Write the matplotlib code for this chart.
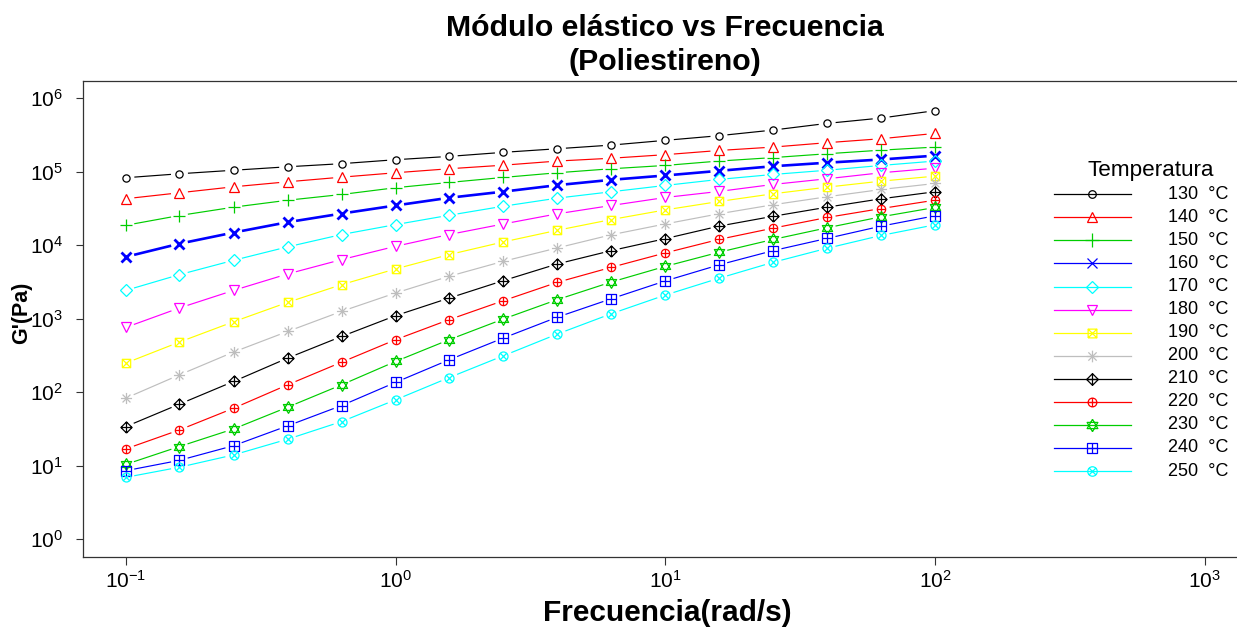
import numpy as np
import matplotlib
matplotlib.use("Agg")
import matplotlib.pyplot as plt
from matplotlib.path import Path
from matplotlib.lines import Line2D
from matplotlib.collections import LineCollection
from matplotlib.ticker import FixedLocator, NullLocator, LogFormatterSciNotation

plt.rcParams['font.family'] = ['Liberation Sans', 'DejaVu Sans']
plt.rcParams['mathtext.fontset'] = 'custom'
plt.rcParams['mathtext.rm'] = 'Liberation Sans'
plt.rcParams['mathtext.it'] = 'Liberation Sans'
plt.rcParams['mathtext.bf'] = 'Liberation Sans:bold'

# ---------------- data ----------------
frecuencia = [0.1, 0.158, 0.251, 0.398, 0.631, 1.0, 1.58, 2.51, 3.98, 6.31,
              10.0, 15.8, 25.1, 39.8, 63.1, 100.0]
temperaturas = [130, 140, 150, 160, 170, 180, 190, 200, 210, 220, 230, 240, 250]
x_ticks = [0.1, 1, 10, 100, 1000]
y_ticks = [1, 10, 100, 1e3, 1e4, 1e5, 1e6]

g_130 = [8.3e4, 9.4e4, 1.05e5, 1.17e5, 1.29e5, 1.46e5, 1.62e5, 1.84e5, 2.06e5, 2.31e5, 2.68e5, 3.10e5, 3.70e5, 4.56e5, 5.39e5, 6.80e5]
g_140 = [4.30e4, 5.18e4, 6.25e4, 7.31e4, 8.45e4, 9.70e4, 1.10e5, 1.23e5, 1.40e5, 1.53e5, 1.71e5, 1.95e5, 2.17e5, 2.49e5, 2.82e5, 3.33e5]
g_150 = [1.87e4, 2.54e4, 3.30e4, 4.10e4, 4.91e4, 6.07e4, 7.16e4, 8.38e4, 9.70e4, 1.10e5, 1.22e5, 1.40e5, 1.56e5, 1.76e5, 1.97e5, 2.17e5]
g_160 = [6.95e3, 1.05e4, 1.49e4, 2.06e4, 2.70e4, 3.48e4, 4.43e4, 5.37e4, 6.58e4, 7.78e4, 8.91e4, 1.03e5, 1.19e5, 1.33e5, 1.47e5, 1.66e5]
g_170 = [2.43e3, 3.98e3, 6.24e3, 9.51e3, 1.40e4, 1.91e4, 2.56e4, 3.40e4, 4.38e4, 5.35e4, 6.52e4, 7.87e4, 9.20e4, 1.05e5, 1.22e5, 1.40e5]
g_180 = [762, 1.40e3, 2.43e3, 4.07e3, 6.38e3, 9.68e3, 1.40e4, 1.95e4, 2.68e4, 3.48e4, 4.47e4, 5.40e4, 6.73e4, 8.04e4, 9.70e4, 1.12e5]
g_190 = [249, 481, 910, 1.67e3, 2.91e3, 4.76e3, 7.46e3, 1.11e4, 1.60e4, 2.24e4, 3.03e4, 3.94e4, 5.02e4, 6.18e4, 7.46e4, 8.73e4]
g_200 = [83, 172, 352, 671, 1.26e3, 2.24e3, 3.78e3, 6.05e3, 9.20e3, 1.39e4, 1.95e4, 2.68e4, 3.56e4, 4.57e4, 5.74e4, 6.93e4]
g_210 = [34, 68.7, 140, 291, 574, 1.10e3, 1.91e3, 3.30e3, 5.57e3, 8.45e3, 1.23e4, 1.82e4, 2.48e4, 3.30e4, 4.29e4, 5.35e4]
g_220 = [16.9, 30.6, 60.5, 126, 256, 518, 971, 1.76e3, 3.13e3, 5.01e3, 7.87e3, 1.20e4, 1.71e4, 2.39e4, 3.16e4, 4.11e4]
g_230 = [10.4, 18.2, 31.6, 62.5, 126, 262, 518, 991, 1.82e3, 3.16e3, 5.16e3, 8.02e3, 1.20e4, 1.73e4, 2.44e4, 3.27e4]
g_240 = [8.53, 11.8, 18.7, 34.8, 65.8, 136, 276, 546, 1.05e3, 1.87e3, 3.27e3, 5.40e3, 8.45e3, 1.24e4, 1.82e4, 2.52e4]
g_250 = [6.93, 9.51, 14.0, 22.9, 39.8, 78.7, 158, 313, 619, 1.17e3, 2.10e3, 3.55e3, 5.86e3, 9.10e3, 1.36e4, 1.90e4]

series = [g_130, g_140, g_150, g_160, g_170, g_180, g_190,
          g_200, g_210, g_220, g_230, g_240, g_250]

# ---------------- styles ----------------
r_palette = ['#000000', '#FF0000', '#00CD00', '#0000FF', '#00FFFF',
             '#FF00FF', '#FFFF00', '#BEBEBE']
colors = [r_palette[i % 8] for i in range(13)]


def compound(*paths):
    return Path.make_compound_path(*paths)


def seg(a, b):
    return Path([a, b], [Path.MOVETO, Path.LINETO])


def poly(pts):
    pts = list(pts) + [pts[0]]
    return Path(pts, [Path.MOVETO] + [Path.LINETO] * (len(pts) - 1))


circ = Path.unit_circle()
sq = poly([(-1, -1), (1, -1), (1, 1), (-1, 1)])
dia = poly([(0, -1), (1, 0), (0, 1), (-1, 0)])
tri_up = poly([(0, 1), (-0.866, -0.5), (0.866, -0.5)])
tri_dn = poly([(0, -1), (-0.866, 0.5), (0.866, 0.5)])
k = 0.7071

m_sqx = compound(sq, seg((-1, -1), (1, 1)), seg((-1, 1), (1, -1)))
m_ast = compound(seg((-1, 0), (1, 0)), seg((0, -1), (0, 1)),
                 seg((-k, -k), (k, k)), seg((-k, k), (k, -k)))
m_diap = compound(dia, seg((-1, 0), (1, 0)), seg((0, -1), (0, 1)))
m_circp = compound(circ, seg((-1, 0), (1, 0)), seg((0, -1), (0, 1)))
m_star = compound(tri_up, tri_dn)
m_sqp = compound(sq, seg((-1, 0), (1, 0)), seg((0, -1), (0, 1)))
m_circx = compound(circ, seg((-k, -k), (k, k)), seg((-k, k), (k, -k)))

markers = ['o', '^', '+', 'x', 'D', 'v', m_sqx, m_ast, m_diap, m_circp,
           m_star, m_sqp, m_circx]
msizes = [5.2, 7.5, 9, 6.5, 6, 7.5, 6, 8, 8, 6, 8.5, 6.5, 6.5]

# ---------------- figure ----------------
W, H = 1237, 630
fig = plt.figure(figsize=(W / 100, H / 100), dpi=100)
ax_l, ax_r, ax_t, ax_b = 82.7, 1248.0, 80.7, 556.7
ax = fig.add_axes([ax_l / W, 1 - ax_b / H, (ax_r - ax_l) / W, (ax_b - ax_t) / H])
ax.set_xscale('log')
ax.set_yscale('log')
ax.set_xlim(10 ** -1.16, 10 ** 3.16)
ax.set_ylim(10 ** -0.24, 10 ** 6.24)

ax.xaxis.set_major_locator(FixedLocator(x_ticks))
ax.yaxis.set_major_locator(FixedLocator(y_ticks))
ax.xaxis.set_major_formatter(LogFormatterSciNotation())
ax.yaxis.set_major_formatter(LogFormatterSciNotation())
ax.xaxis.set_minor_locator(NullLocator())
ax.yaxis.set_minor_locator(NullLocator())
ax.tick_params(axis='both', which='major', direction='out', length=5.4,
               width=0.8, color='#333333', labelsize=15)
ax.tick_params(axis='x', pad=4)
ax.tick_params(axis='y', pad=9)
ax.spines['right'].set_visible(False)
for s in ['left', 'bottom', 'top']:
    ax.spines[s].set_linewidth(0.9)
    ax.spines[s].set_color('#333333')

gap_px = 8.5
inv = ax.transData.inverted()
for i, (vals, c) in enumerate(zip(series, colors)):
    lw = 1.9 if i == 3 else 0.85
    pts = ax.transData.transform(np.column_stack([frecuencia, vals]))
    segs = []
    for p0, p1 in zip(pts[:-1], pts[1:]):
        d = p1 - p0
        L = np.hypot(*d)
        if L <= 2 * gap_px:
            continue
        u = d / L
        segs.append(inv.transform(np.vstack([p0 + u * gap_px, p1 - u * gap_px])))
    ax.add_collection(LineCollection(segs, colors=c, linewidths=lw))
    mew = 2.0 if i == 3 else 0.9
    ax.plot(frecuencia, vals, linestyle='none', marker=markers[i],
            markersize=msizes[i], markerfacecolor='none',
            markeredgecolor=c, markeredgewidth=mew)

# titles / labels
fig.text(665 / W, 1 - 28 / H, 'Módulo elástico vs Frecuencia', ha='center',
         va='center', fontsize=21.8, fontweight='bold')
fig.text(665 / W, 1 - 62 / H, '(Poliestireno)', ha='center', va='center',
         fontsize=21.8, fontweight='bold')
fig.text(667 / W, 1 - 613 / H, 'Frecuencia(rad/s)', ha='center', va='center',
         fontsize=21.5, fontweight='bold')
fig.text(22 / W, 1 - 313 / H, "G'(Pa)", ha='center', va='center',
         fontsize=15.5, fontweight='bold', rotation=90)

# legend (no frame)
fig.text(1151 / W, 1 - 171 / H, 'Temperatura', ha='center', va='center',
         fontsize=16.2)
y0, dy = 194.3, 23.06
for i, t in enumerate(temperaturas):
    yy = 1 - (y0 + i * dy) / H
    fig.add_artist(Line2D([1054 / W, 1131 / W], [yy, yy], color=colors[i],
                          linewidth=0.9, transform=fig.transFigure))
    fig.add_artist(Line2D([1092 / W], [yy], linestyle='none', marker=markers[i],
                          markersize=msizes[i] * 1.05, markerfacecolor='none',
                          markeredgecolor=colors[i], markeredgewidth=0.9,
                          transform=fig.transFigure))
    fig.text(1168 / W, yy, f'{t}  °C', ha='left', va='center', fontsize=13)

fig.savefig('out.png', dpi=100)
